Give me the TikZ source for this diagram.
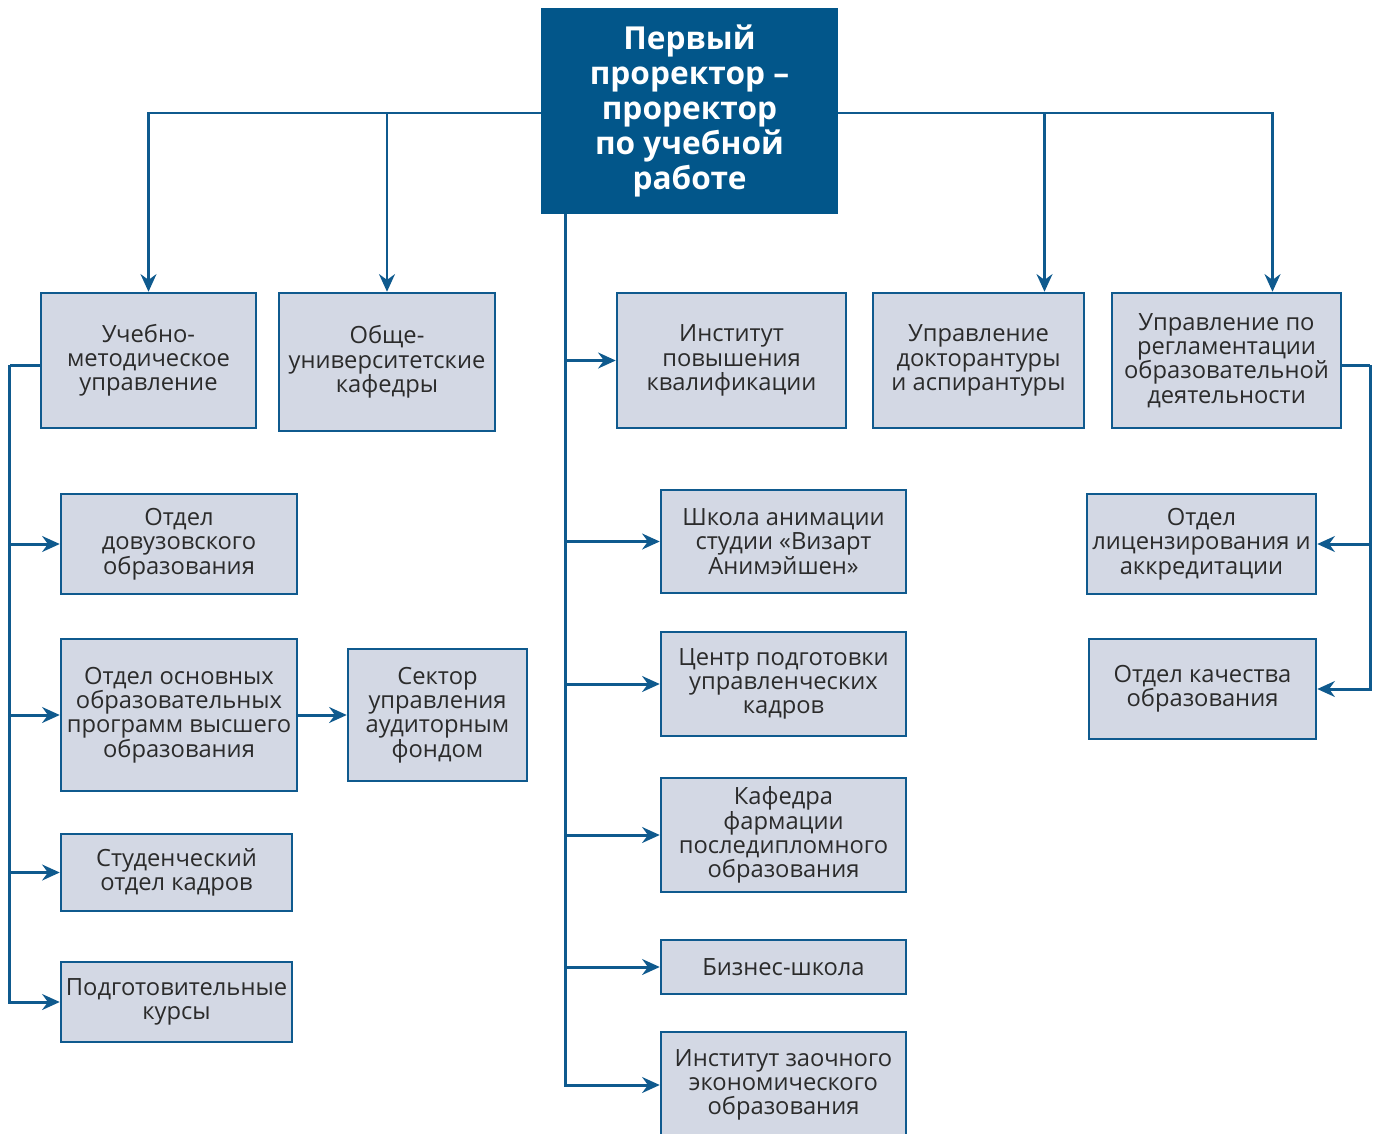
\documentclass[tikz,border=0pt]{standalone}
\usepackage{fontspec}
\setmainfont{Open Sans}
\usepackage{xcolor}
\usetikzlibrary{positioning}
\usetikzlibrary{calc}
\usetikzlibrary{arrows.meta}
\definecolor{unitblue}{HTML}{0F5A8E}
\definecolor{headblue}{HTML}{02568A}
\definecolor{unitfill}{HTML}{D3D8E4}
\definecolor{unittext}{HTML}{2B2B2B}
\tikzset{
	dims/.style n args={2}{
		minimum width=#1*0.02cm, minimum height=#2*0.02cm
	},
	unit/.style={
		draw=unitblue, fill=unitfill, line width=1.4pt, inner sep=1pt,
		align=center, text=unittext, font=\fontsize{13.5}{13.8}\selectfont
	},
	head/.style={
		fill=headblue, inner sep=1pt, align=center, text=white,
		font=\fontsize{18}{19.8}\selectfont\bfseries
	},
	link/.style={
		draw=unitblue, line width=1.7pt, -{Stealth[length=10pt,width=9pt]}
	},
	bus/.style={
		draw=unitblue, line width=1.7pt
	}
}
\begin{document}
\begin{tikzpicture}[x=0.02cm, y=-0.02cm]
    \useasboundingbox (0,0) rectangle (1376,1133);

    \node [head, dims={297}{206}] (prorector) at (689.5,111) {Первый\\проректор –\\проректор\\по учебной\\работе};

    % first row
    \node [unit, dims={215}{135}] (umu) at (148.5,360.5) {Учебно-\\методическое\\управление};
    \node [unit, dims={216}{138}] (kafedry) at (387,362) {Обще-\\университетские\\кафедры};
    \node [unit, dims={229}{135}] (ipk) at (731.5,360.5) {Институт\\повышения\\квалификации};
    \node [unit, dims={211}{135}] (doktor) at (978.5,360.5) {Управление\\докторантуры\\и аспирантуры};
    \node [unit, dims={229}{135}] (reglament) at (1226.5,360.5) {Управление по\\регламентации\\образовательной\\деятельности};

    % left column
    \node [unit, dims={236}{100}] (dovuz) at (179,544) {Отдел\\довузовского\\образования};
    \node [unit, dims={236}{152}] (oop) at (179,715) {Отдел основных\\образовательных\\программ высшего\\образования};
    \node [unit, dims={179}{132}] (sektor) at (437.5,715) {Сектор\\управления\\аудиторным\\фондом};
    \node [unit, dims={231}{77}] (studkadr) at (176.5,872.5) {Студенческий\\отдел кадров};
    \node [unit, dims={231}{80}] (podgot) at (176.5,1002) {Подготовительные\\курсы};

    % middle column
    \node [unit, dims={245}{103}] (animacia) at (783.5,541.5) {Школа анимации\\студии «Визарт\\Анимэйшен»};
    \node [unit, dims={245}{104}] (cpuk) at (783.5,684) {Центр подготовки\\управленческих\\кадров};
    \node [unit, dims={245}{114}] (farmacia) at (783.5,835) {Кафедра\\фармации\\последипломного\\образования};
    \node [unit, dims={245}{54}] (biznes) at (783.5,967) {Бизнес-школа};
    \node [unit, dims={245}{106}] (zaochn) at (783.5,1085) {Институт заочного\\экономического\\образования};

    % right column
    \node [unit, dims={229}{100}] (licenz) at (1201.5,544) {Отдел\\лицензирования и\\аккредитации};
    \node [unit, dims={227}{100}] (kachestvo) at (1202.5,689) {Отдел качества\\образования};

    \coordinate (trunk) at ($(prorector.south west)+(25,0)$);
    \coordinate (tleft) at ($(prorector.west)+(0,2)$);
    \coordinate (tright) at ($(prorector.east)+(0,2)$);
    \coordinate (lbus) at ($(umu.west)+(-30,4.5)$);
    \coordinate (rbus) at ($(reglament.east)+(28,4.5)$);

    \draw [link] (tleft) -| (umu.north);
    \draw [link] (tleft) -| (kafedry.north);
    \draw [link] (tright) -| ($(doktor.north)+(66,0)$);
    \draw [link] (tright) -| ($(reglament.north)+(46,0)$);

    \foreach \u in {ipk,animacia,cpuk,farmacia,biznes,zaochn}
        \draw [link] (trunk) |- (\u.west);

    \draw [bus] (umu.west |- lbus) -- (lbus);
    \foreach \u in {dovuz,oop,studkadr,podgot}
        \draw [link] (lbus) |- (\u.west);
    \draw [link] (oop) -- (sektor);

    \draw [bus] (reglament.east |- rbus) -- (rbus);
    \foreach \u in {licenz,kachestvo}
        \draw [link] (rbus) |- (\u.east);
\end{tikzpicture}
\end{document}
